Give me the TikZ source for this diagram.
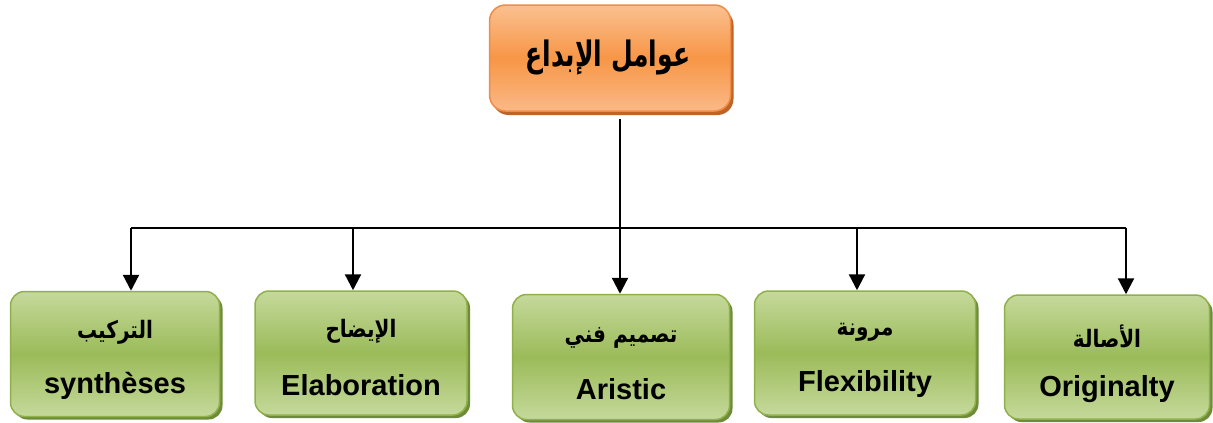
\documentclass[tikz,border=0pt]{standalone}
\usepackage{fontspec}
\setmainfont{Liberation Sans}
\newfontfamily\arabicfont[Script=Arabic]{DejaVu Sans}
\TeXXeTstate=1
\usetikzlibrary{arrows.meta,shadows}
\begin{document}
\begin{tikzpicture}[x=1pt,y=-1pt,
  conn/.style={line width=2.3pt,black},
  arr/.style={conn,-{Triangle[width=16pt,length=16pt]}},
  greenbox/.style={draw={rgb,255:red,143;green,176;blue,74}, line width=1.5pt,
    rounded corners=14pt, top color={rgb,255:red,197;green,217;blue,155}, bottom color={rgb,255:red,197;green,217;blue,155},
    middle color={rgb,255:red,155;green,187;blue,89},
    drop shadow={shadow xshift=3pt,shadow yshift=-3pt,fill={rgb,255:red,110;green,140;blue,55},opacity=1},
    align=center, inner sep=0pt},
  orangebox/.style={draw={rgb,255:red,240;green,140;blue,70}, line width=1.5pt,
    rounded corners=16pt, top color={rgb,255:red,250;green,192;blue,144}, bottom color={rgb,255:red,250;green,185;blue,135},
    middle color={rgb,255:red,247;green,150;blue,70},
    drop shadow={shadow xshift=3pt,shadow yshift=-4pt,fill={rgb,255:red,190;green,100;blue,40},opacity=1},
    align=center, inner sep=0pt},
  ar/.style={font=\arabicfont\bfseries\fontsize{20}{24}\selectfont},
  en/.style={font=\bfseries\fontsize{29}{32}\selectfont}
]
\useasboundingbox (0,0) rectangle (1213,423);
% top
\node[orangebox, minimum width=241pt, minimum height=106pt] (top) at (610,58) {};
\node[font=\arabicfont\bfseries\fontsize{25}{30}\selectfont] (ttl) at (608,57) {\scalebox{1}[1.4]{\beginR عوامل الإبداع\endR}};
% bottom boxes
\node[greenbox, minimum width=209pt, minimum height=125pt] (b1) at (115,354) {};
\node[greenbox, minimum width=212pt, minimum height=124pt] (b2) at (361,353) {};
\node[greenbox, minimum width=217pt, minimum height=125pt] (b3) at (621,357) {};
\node[greenbox, minimum width=221pt, minimum height=124pt] (b4) at (865,353) {};
\node[greenbox, minimum width=205pt, minimum height=124pt] (b5) at (1107,357) {};
% texts
\node[ar] (t1a) at (115,332) {\scalebox{1}[1.2]{\beginR التركيب\endR}};
\node[en] (t1b) at (115,386) {synthèses};
\node[ar] (t2a) at (361,331) {\scalebox{1}[1.2]{\beginR الإيضاح\endR}};
\node[en] (t2b) at (361,385) {Elaboration};
\node[ar] (t3a) at (621,338) {\scalebox{1}[1.2]{\beginR تصميم فني\endR}};
\node[en] (t3b) at (621,389) {Aristic};
\node[ar] (t4a) at (865,332) {\scalebox{1}[1.2]{\beginR مرونة\endR}};
\node[en] (t4b) at (865,384) {Flexibility};
\node[ar] (t5a) at (1107,336) {\scalebox{1}[1.2]{\beginR الأصالة\endR}};
\node[en] (t5b) at (1107,389) {Originalty};
% connectors
\coordinate (hub) at (620,228);
\coordinate (a1) at (131,228);
\coordinate (a2) at (353,228);
\coordinate (a4) at (857,228);
\coordinate (a5) at (1126,228);
\draw[conn] ([yshift=-7pt]top.south -| hub) -- (hub);
\draw[conn] (a1) -- (a5);
\draw[arr] (a1) -- (a1 |- b1.north);
\draw[arr] (a2) -- (a2 |- b2.north);
\draw[arr] (hub) -- (hub |- b3.north);
\draw[arr] (a4) -- (a4 |- b4.north);
\draw[arr] (a5) -- (a5 |- b5.north);
\end{tikzpicture}
\end{document}
